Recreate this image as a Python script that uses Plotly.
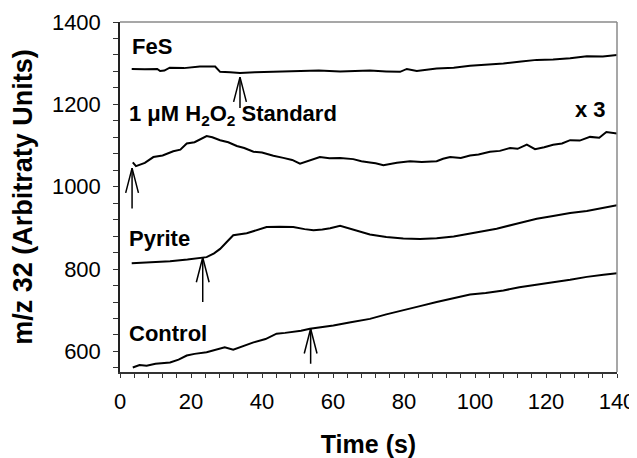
import plotly.graph_objects as go

# ---- data ----
fes_t = [3.3, 7.0, 10.5, 11.3, 12.5, 14.0, 18.0, 22.5, 26.8, 28.2, 31.0, 33.8, 38.0, 42.0, 48.0, 56.0, 62.0, 70.4,
         75.0, 78.9, 80.8, 83.6, 89.2, 94.0, 98.6, 103.0, 108.0, 113.0, 117.4, 122.0, 126.8, 131.5, 136.0, 140.0]
fes_v = [1286, 1285, 1286, 1281, 1282, 1289, 1288, 1292, 1292, 1279, 1278, 1276, 1278, 1279, 1281, 1282, 1280, 1282,
         1280, 1279, 1286, 1281, 1287, 1289, 1294, 1296, 1299, 1304, 1308, 1309, 1312, 1317, 1316, 1320]

h2o2_t = [3.6, 4.5, 7.0, 9.4, 12.0, 15.0, 17.0, 18.8, 21.0, 23.0, 24.4, 26.0, 28.2, 30.5, 32.9, 35.0, 37.6, 40.0,
          43.2, 46.0, 48.5, 50.7, 53.0, 56.3, 59.0, 62.0, 65.7, 68.0, 70.4, 72.0, 74.2, 78.0, 81.7, 85.0, 89.2,
          91.0, 93.0, 96.0, 98.6, 101.0, 104.2, 107.0, 109.9, 112.0, 114.6, 116.9, 119.5, 122.0, 124.5, 126.8,
          129.5, 132.4, 135.0, 137.0, 140.0]
h2o2_v = [1059, 1050, 1058, 1072, 1076, 1086, 1090, 1105, 1108, 1118, 1123, 1120, 1113, 1108, 1099, 1094, 1085, 1083,
          1075, 1070, 1065, 1056, 1062, 1072, 1069, 1070, 1067, 1062, 1059, 1057, 1052, 1058, 1062, 1060, 1062,
          1068, 1072, 1070, 1076, 1078, 1085, 1087, 1094, 1092, 1102, 1091, 1096, 1102, 1105, 1113,
          1112, 1121, 1119, 1133, 1129]

pyrite_t = [3.3, 9.0, 14.1, 19.0, 24.4, 26.5, 28.2, 30.0, 31.9, 35.7, 38.5, 41.3, 45.0, 48.8, 52.0, 54.5, 57.0,
            59.2, 62.0, 66.0, 70.4, 75.0, 79.8, 84.5, 89.2, 94.0, 98.6, 102.0, 106.1, 111.7, 117.4, 122.0,
            126.8, 131.5, 136.2, 140.0]
pyrite_v = [814, 816, 819, 823, 829, 838, 849, 865, 882, 887, 894, 902, 903, 902, 897, 894, 896, 899, 905, 895,
            884, 878, 874, 873, 875, 879, 886, 891, 898, 910, 922, 929, 936, 941, 949, 955]

control_t = [3.6, 5.5, 7.5, 10.0, 14.1, 16.5, 18.8, 21.0, 24.4, 26.5, 28.2, 29.5, 31.9, 35.0, 37.6, 41.0, 44.1, 46.5,
             48.8, 51.0, 53.5, 57.0, 60.1, 65.0, 70.4, 75.0, 79.8, 84.5, 89.2, 94.0, 98.6, 103.0, 108.0, 112.5,
             117.4, 122.0, 126.8, 131.5, 136.2, 140.0]
control_v = [561, 567, 565, 570, 573, 580, 590, 594, 598, 603, 608, 610, 604, 614, 622, 630, 643, 645, 647, 650,
             655, 659, 663, 671, 679, 690, 701, 710, 720, 730, 738, 742, 748, 756, 763, 768, 774, 781, 786, 790]

series_names = ["FeS", "H2O2 standard", "Pyrite", "Control"]

# arrow markers: time, tip value, tail value
arrow_t = [33.8, 3.4, 23.3, 53.7]
arrow_tip = [1266, 1045, 828, 655]
arrow_tail = [1191, 947, 720, 570]

labels_text = ["FeS", "1 \u03bcM H<sub>2</sub>O<sub>2</sub> Standard", "x 3", "Pyrite", "Control"]
labels_t = [3.1, 2.3, 137.2, 2.25, 2.25]
labels_v = [1341, 1174, 1187, 874, 643]
labels_anchor = ["left", "left", "right", "left", "left"]

# ---- figure ----
FONT = "Arial, Liberation Sans, Helvetica, sans-serif"
fig = go.Figure()

for t, v, name in zip([fes_t, h2o2_t, pyrite_t, control_t],
                      [fes_v, h2o2_v, pyrite_v, control_v], series_names):
    fig.add_trace(go.Scatter(x=t, y=v, mode="lines", name=name,
                             line=dict(color="black", width=2), showlegend=False,
                             hoverinfo="skip"))

HEAD_DX = 1.8   # seconds
HEAD_DY = 60    # y units
for t, tip, tail in zip(arrow_t, arrow_tip, arrow_tail):
    xs = [t, t, None, t - HEAD_DX, t, t + HEAD_DX]
    ys = [tail, tip, None, tip - HEAD_DY, tip, tip - HEAD_DY]
    fig.add_trace(go.Scatter(x=xs, y=ys, mode="lines",
                             line=dict(color="black", width=1.5),
                             showlegend=False, hoverinfo="skip"))

for txt, t, v, anc in zip(labels_text, labels_t, labels_v, labels_anchor):
    fig.add_annotation(x=t, y=v, text="<b>" + txt + "</b>", showarrow=False,
                       xanchor=anc, yanchor="middle", borderpad=0,
                       font=dict(family=FONT, size=22, color="black"))

# top / right border in grey
fig.add_shape(type="line", xref="x domain", yref="y domain", x0=0, x1=1, y0=1, y1=1,
              line=dict(color="#8a8a8a", width=1.5))
fig.add_shape(type="line", xref="x domain", yref="y domain", x0=1, x1=1, y0=0, y1=1,
              line=dict(color="#8a8a8a", width=1.5))

fig.update_xaxes(range=[0, 140], dtick=20, tick0=0, showgrid=False, zeroline=False,
                 automargin=False,
                 showline=True, linecolor="#333333", linewidth=1.5,
                 ticks="outside", ticklen=4, tickcolor="#333333", tickwidth=1,
                 minor=dict(dtick=4, ticks="outside", ticklen=4, tickcolor="#333333", tickwidth=1),
                 tickfont=dict(family=FONT, size=22, color="black"),
                 ticklabelstandoff=5,
                 title=dict(text="<b>Time (s)</b>", font=dict(family=FONT, size=25, color="black"),
                            standoff=24))
fig.update_yaxes(range=[550, 1400], dtick=200, tick0=600, showgrid=False, zeroline=False,
                 automargin=False,
                 showline=True, linecolor="#222222", linewidth=1.5,
                 ticks="outside", ticklen=5, tickcolor="#333333", tickwidth=1,
                 minor=dict(dtick=40, tick0=600, ticks="outside", ticklen=5, tickcolor="#333333", tickwidth=1),
                 tickfont=dict(family=FONT, size=22, color="black"),
                 ticklabelstandoff=8,
                 title=dict(text="<b>m/z 32 (Arbitraty Units)</b>",
                            font=dict(family=FONT, size=27, color="black"), standoff=24))

# the page adds an 8px body margin, so the figure is 8px smaller than the window
fig.update_layout(width=629, height=450, margin=dict(l=112, r=20, t=14, b=86),
                  plot_bgcolor="white", paper_bgcolor="white")

fig.write_html("out.html")
